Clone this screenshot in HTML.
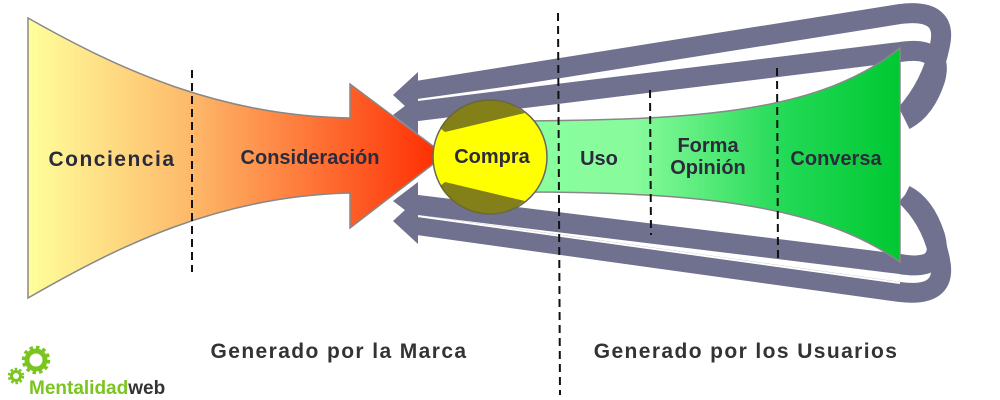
<!DOCTYPE html>
<html><head><meta charset="utf-8"><style>
html,body{margin:0;padding:0;background:#fff}
svg{display:block}
text{font-family:"Liberation Sans",sans-serif;font-weight:bold}
</style></head><body>
<svg width="1000" height="400" viewBox="0 0 1000 400" xmlns="http://www.w3.org/2000/svg">
<defs>
<linearGradient id="lg" x1="28" y1="0" x2="445" y2="0" gradientUnits="userSpaceOnUse">
<stop offset="0" stop-color="#ffff9c"/><stop offset="0.4" stop-color="#fdb768"/><stop offset="1" stop-color="#ff2a00"/>
</linearGradient>
<linearGradient id="rg" x1="520" y1="0" x2="900" y2="0" gradientUnits="userSpaceOnUse">
<stop offset="0" stop-color="#8affa0"/><stop offset="0.3" stop-color="#88fb9c"/><stop offset="0.7" stop-color="#22d955"/><stop offset="1" stop-color="#00c832"/>
</linearGradient>
</defs>
<g fill="none" stroke-linecap="butt">
<path d="M410,92 L900,14 Q948,8 940,45 Q932,85 905,115" stroke="#70708f" stroke-width="20"/>
<path d="M410,112 L900,52 Q945,45 935,80 Q925,110 905,120" stroke="#70708f" stroke-width="20"/>
<path d="M410,101 L900,33" stroke="#fff" stroke-width="2"/>
<path d="M410,224 L900,292 Q948,298 940,260 Q932,220 905,195" stroke="#70708f" stroke-width="20"/>
<path d="M410,204 L900,264 Q945,272 935,236 Q925,205 905,195" stroke="#70708f" stroke-width="20"/>
<path d="M410,215 L900,283" stroke="#fff" stroke-width="2"/>
</g>
<g fill="#70708f">
<polygon points="393,95 418,72 418,118"/>
<polygon points="393,115 418,96 418,134"/>
<polygon points="393,221 418,198 418,244"/>
<polygon points="393,201 418,182 418,220"/>
</g>
<path d="M28,18 C120,70 220,116 350,118 L350,84 L445,155 L350,228 L350,193 C220,196 120,245 28,298 Z" fill="url(#lg)" stroke="#888" stroke-width="1.5"/>
<path d="M520,121 C700,120 820,112 900,48 L900,262 C820,205 700,192 520,192 Z" fill="url(#rg)" stroke="#888" stroke-width="1.5"/>
<circle cx="490" cy="157" r="57" fill="#ffff00" stroke="#666" stroke-width="1.5"/>
<path d="M440,128 A57,57 0 0 1 513,105 L525,113 L445,132 Z" fill="#6d6a1e" opacity="0.85"/>
<path d="M440,186 A57,57 0 0 0 513,209 L525,201 L445,182 Z" fill="#6d6a1e" opacity="0.85"/>
<g stroke="#111" stroke-width="2" stroke-dasharray="8,5">
<line x1="192" y1="70" x2="192" y2="272"/>
<line x1="558" y1="13" x2="560" y2="395"/>
<line x1="650" y1="90" x2="651" y2="235"/>
<line x1="777" y1="68" x2="778" y2="258"/>
</g>
<g fill="#2b2b3b" font-size="20" text-anchor="middle">
<text x="112" y="166" font-size="21" letter-spacing="1.5">Conciencia</text>
<text x="310" y="164">Consideración</text>
<text x="492" y="163">Compra</text>
<text x="599" y="165">Uso</text>
<text x="708" y="152">Forma</text>
<text x="708" y="174">Opinión</text>
<text x="836" y="165">Conversa</text>
</g>
<g fill="#333" font-size="21" text-anchor="middle" letter-spacing="1.4">
<text x="339" y="358">Generado por la Marca</text>
<text x="746" y="358">Generado por los Usuarios</text>
</g>
<g fill="none" stroke="#7ac520">
<circle cx="36" cy="360" r="9" stroke-width="5"/>
<circle cx="36" cy="360" r="12.5" stroke-width="3.5" stroke-dasharray="3.5,3"/>
<circle cx="16" cy="376" r="4.5" stroke-width="3"/>
<circle cx="16" cy="376" r="7" stroke-width="2.5" stroke-dasharray="2.5,2"/>
</g>
<text x="29" y="394" font-size="19"><tspan fill="#7ac520">Mentalidad</tspan><tspan fill="#333">web</tspan></text>
</svg>
</body></html>
